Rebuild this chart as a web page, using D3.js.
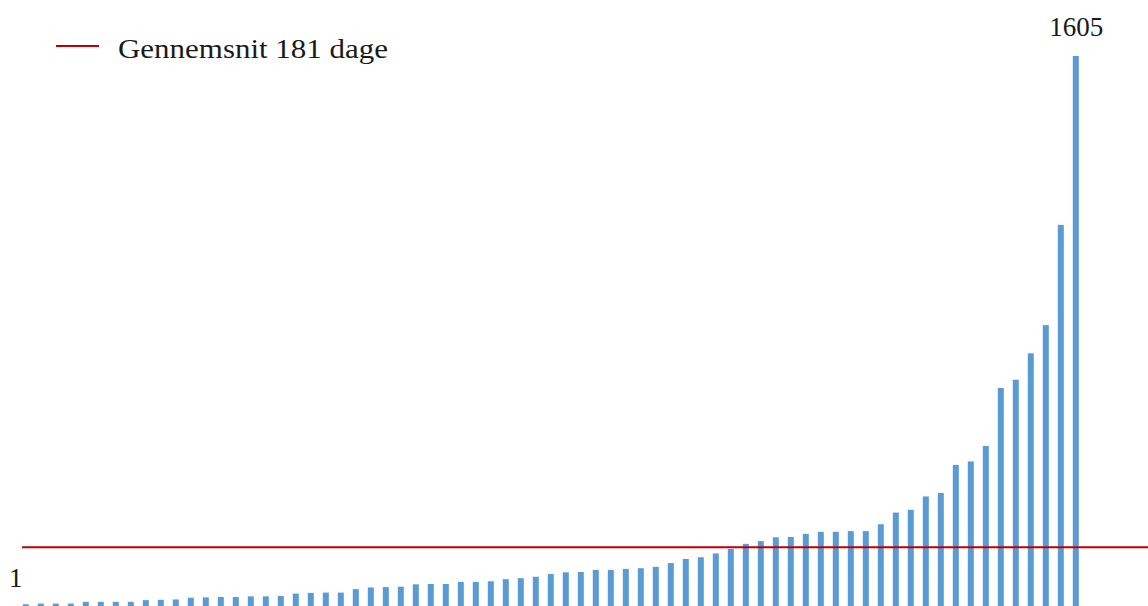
<!DOCTYPE html>
<html>
<head>
<meta charset="utf-8">
<script src="https://cdn.jsdelivr.net/npm/d3@7"></script>
<style>
  html, body { margin: 0; padding: 0; background: #ffffff; overflow: hidden; }
  svg { display: block; }
</style>
</head>
<body>
<svg id="chart" width="1148" height="606"></svg>
<script>
// ---- data ----
const values = [
  1, 8, 10, 10, 10, 15, 15, 15, 15, 20, 21, 22,
  27, 28, 29, 29, 31, 31, 32, 39, 41, 42, 42, 52,
  57, 58, 59, 66, 67, 67, 73, 73, 75, 81, 84, 88,
  96, 101, 102, 108, 108, 111, 113, 117, 128, 140, 145, 156,
  169, 184, 192, 203, 204, 213, 219, 219, 221, 221, 241, 275,
  283, 322, 332, 414, 424, 469, 638, 662, 739, 821, 1113, 1605
];
const categories = values.map((d, i) => i + 1);
const averageValue = 181;
const legendLabels = ["Gennemsnit 181 dage"];
const labelledIndices = [0, values.length - 1];

// ---- layout ----
const W = 1148, H = 606;
const svg = d3.select("#chart");
const fontFamily = "'Liberation Serif', 'Times New Roman', Times, 'Noto Serif', 'DejaVu Serif', serif";

const x = d3.scaleBand()
  .domain(categories)
  .range([3.3, 3.3 + 15 * values.length])
  .paddingInner(0.6)
  .paddingOuter(0.3);

const y = d3.scaleLinear()
  .domain([0, d3.max(values)])
  .range([607, 56]);

// bars
svg.append("g")
  .selectAll("rect")
  .data(values)
  .join("rect")
  .attr("x", (d, i) => x(categories[i]))
  .attr("y", d => y(d))
  .attr("width", x.bandwidth())
  .attr("height", d => y(0) - y(d))
  .attr("fill", "#5B9BD5");

// average line
svg.append("line")
  .attr("x1", 22)
  .attr("x2", W)
  .attr("y1", y(averageValue) + 2.5)
  .attr("y2", y(averageValue) + 2.5)
  .attr("stroke", "#C00000")
  .attr("stroke-width", 2);

// data labels (min and max)
svg.append("g")
  .selectAll("text")
  .data(labelledIndices)
  .join("text")
  .attr("x", i => x(categories[i]) + x.bandwidth() / 2 + (i === 0 ? 5 : 0.5))
  .attr("y", i => y(values[i]) - 20)
  .attr("text-anchor", "middle")
  .attr("font-family", fontFamily)
  .attr("font-size", 27)
  .attr("fill", "#1a1a1a")
  .text(i => values[i]);

// legend
const legend = svg.append("g");
legend.append("line")
  .attr("x1", 56).attr("x2", 99)
  .attr("y1", 46).attr("y2", 46)
  .attr("stroke", "#C00000")
  .attr("stroke-width", 2);
legend.append("text")
  .attr("x", 118)
  .attr("y", 58)
  .attr("font-family", fontFamily)
  .attr("font-size", 28)
  .attr("fill", "#1a1a1a")
  .attr("textLength", 270)
  .attr("lengthAdjust", "spacingAndGlyphs")
  .text(legendLabels[0]);
</script>
</body>
</html>
